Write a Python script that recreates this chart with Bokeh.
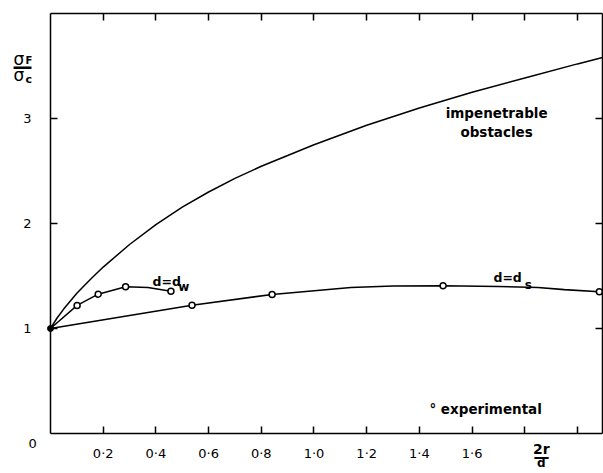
from bokeh.plotting import figure
from bokeh.models import LinearAxis, FixedTicker, Label, Range1d
from bokeh.embed import file_html
from bokeh.resources import INLINE

# ---- data ----
imp_x = [0.0, 0.025, 0.05, 0.1, 0.15, 0.2, 0.3, 0.4, 0.5, 0.6, 0.7, 0.8, 1.0, 1.2, 1.4,
         1.6, 1.8, 2.0, 2.095]
imp_y = [1.0, 1.10, 1.185, 1.335, 1.465, 1.585, 1.80, 1.99, 2.155, 2.30, 2.43, 2.545, 2.75,
         2.935, 3.10, 3.25, 3.385, 3.52, 3.58]

dw_curve_x = [0.0, 0.101, 0.181, 0.285, 0.37, 0.457]
dw_curve_y = [1.0, 1.22, 1.327, 1.397, 1.39, 1.355]
dw_exp_x = [0.101, 0.181, 0.285, 0.457]
dw_exp_y = [1.22, 1.327, 1.397, 1.355]

ds_curve_x = [0.0, 0.537, 0.841, 1.14, 1.3, 1.49, 1.7, 1.85, 1.95, 2.083]
ds_curve_y = [1.0, 1.222, 1.324, 1.39, 1.405, 1.407, 1.40, 1.39, 1.37, 1.35]
ds_exp_x = [0.537, 0.841, 1.49, 2.083]
ds_exp_y = [1.222, 1.324, 1.407, 1.35]

origin_x = [0.0]
origin_y = [1.0]

x_ticks = [0.2, 0.4, 0.6, 0.8, 1.0, 1.2, 1.4, 1.6, 1.8, 2.0]
x_tick_labels = ["0·2", "0·4", "0·6", "0·8", "1·0", "1·2", "1·4", "1·6", "", ""]
y_ticks = [1, 2, 3]
y_tick_labels = ["1", "2", "3"]

X_MAX = 2.095   # right edge of the box
Y_MAX = 4.0     # top edge of the box

FONT = "DejaVu Sans"

# the frame covers the whole canvas; the box is drawn by four axes at fixed locations
p = figure(width=603, height=473, output_backend="svg", toolbar_location=None,
           x_range=Range1d(-0.18975, 2.09867), y_range=Range1d(-0.38095, 4.12381),
           x_axis_location=None, y_axis_location=None,
           min_border_left=0, min_border_right=0, min_border_top=0, min_border_bottom=0)
p.grid.visible = False
p.outline_line_color = None
p.background_fill_color = "white"
p.border_fill_color = "white"


def make_axis(ticks, labels, show_labels, standoff, loc, bounds):
    ax = LinearAxis(ticker=FixedTicker(ticks=ticks), fixed_location=loc, bounds=bounds)
    ax.major_label_overrides = {t: l for t, l in zip(ticks, labels)}
    ax.major_tick_in = 7
    ax.major_tick_out = 0
    ax.minor_tick_in = 0
    ax.minor_tick_out = 0
    ax.axis_line_color = "black"
    ax.axis_line_width = 1.5
    ax.major_tick_line_color = "black"
    ax.major_tick_line_width = 1.5
    ax.major_label_text_font = FONT
    ax.major_label_text_color = "black"
    if show_labels:
        ax.major_label_text_font_size = "13px"
        ax.major_label_standoff = standoff
    else:
        ax.major_label_text_font_size = "0px"
        ax.major_label_standoff = 0
    return ax


p.add_layout(make_axis(x_ticks, x_tick_labels, True, 12, 0, (0, X_MAX)), "below")
p.add_layout(make_axis(y_ticks, y_tick_labels, True, 19, 0, (0, Y_MAX)), "left")
p.add_layout(make_axis(x_ticks, [""] * len(x_ticks), False, 0, Y_MAX, (0, X_MAX)), "above")
p.add_layout(make_axis(y_ticks, [""] * len(y_ticks), False, 0, X_MAX, (0, Y_MAX)), "right")

# curves
p.line(imp_x, imp_y, line_color="black", line_width=1.5)
p.line(dw_curve_x, dw_curve_y, line_color="black", line_width=1.5)
p.line(ds_curve_x, ds_curve_y, line_color="black", line_width=1.6)
p.scatter(dw_exp_x, dw_exp_y, marker="circle", size=6, fill_color="white",
          line_color="black", line_width=1.5)
p.scatter(ds_exp_x, ds_exp_y, marker="circle", size=6, fill_color="white",
          line_color="black", line_width=1.5)
p.scatter(origin_x, origin_y, marker="circle", size=6, fill_color="black",
          line_color="black")


def lab(x, y, text, size="13px", bold=True, align="left", baseline="middle"):
    p.add_layout(Label(x=x, y=y, text=text, text_font=FONT, text_font_size=size,
                       text_font_style="bold" if bold else "normal",
                       text_align=align, text_baseline=baseline, text_color="black"))


# y axis title: sigma_F / sigma_c
lab(-0.1195, 3.57, "σ", "17px", False, "center")
lab(-0.095, 3.55, "F", "10px", True, "left")
lab(-0.106, 3.50, "—", "20px", True, "center")
lab(-0.1195, 3.41, "σ", "17px", False, "center")
lab(-0.095, 3.375, "c", "11px", True, "left")

# "0" at origin corner
lab(-0.068, -0.095, "0", "13px", False, "center")

# x axis title: 2r / d
lab(1.863, -0.152, "2r", "14px", True, "center")
lab(1.863, -0.219, "—", "16px", True, "center")
lab(1.863, -0.277, "d", "12px", True, "center")

# curve annotations
lab(1.693, 3.057, "impenetrable", "13.5px", True, "center")
lab(1.693, 2.876, "obstacles", "13.5px", True, "center")
lab(0.387, 1.448, "d=d", "12.5px", True, "left")
lab(0.485, 1.40, "w", "12px", True, "left")
lab(1.681, 1.481, "d=d", "12.5px", True, "left")
lab(1.800, 1.419, "s", "12px", True, "left")
lab(1.438, 0.229, "° experimental", "13.5px", True, "left")

open("out.html", "w").write(file_html(p, INLINE))
